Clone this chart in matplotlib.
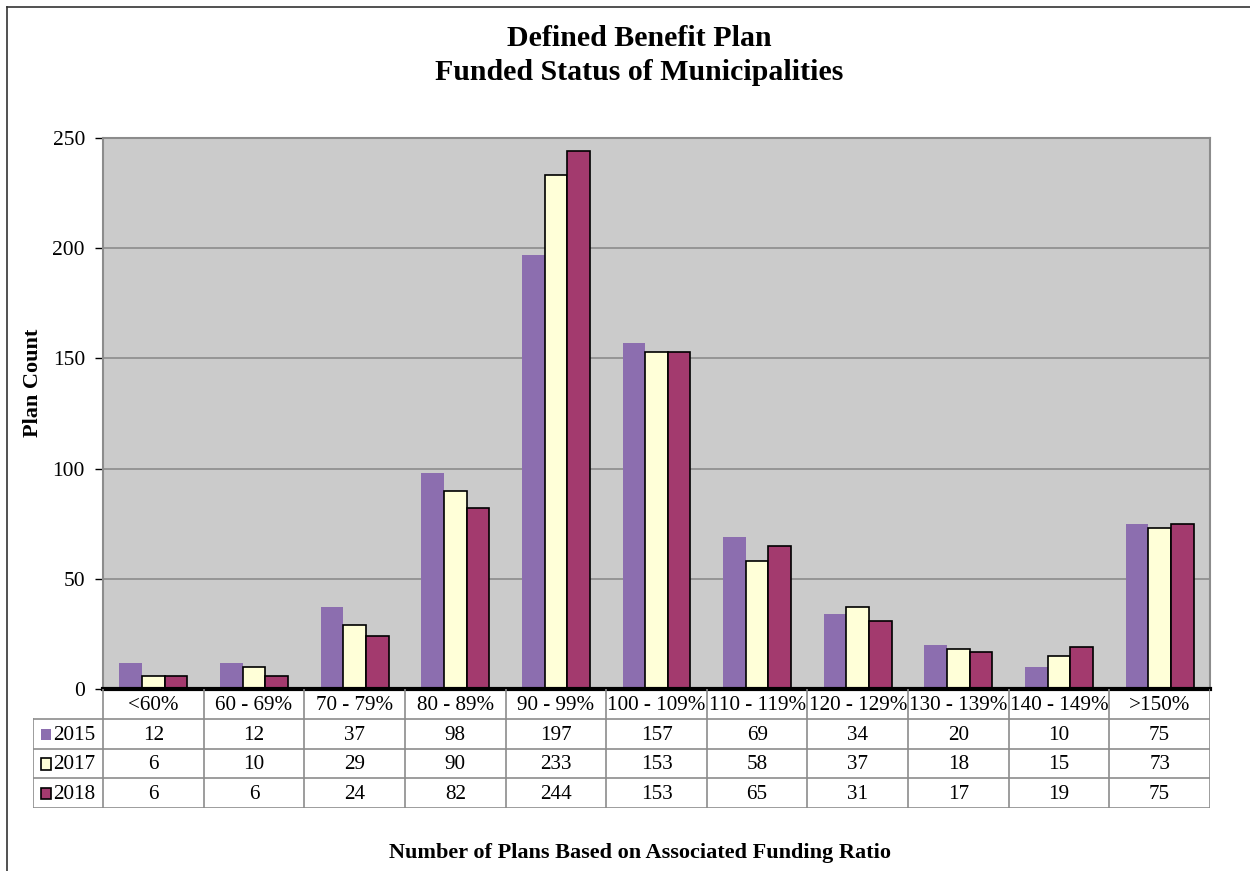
import matplotlib.pyplot as plt
import numpy as np
from matplotlib.patches import Rectangle
from matplotlib.lines import Line2D

plt.rcParams['font.family'] = ['Liberation Serif', 'DejaVu Serif']

# data
categories = ['<60%', '60 - 69%', '70 - 79%', '80 - 89%', '90 - 99%', '100 - 109%',
              '110 - 119%', '120 - 129%', '130 - 139%', '140 - 149%', '>150%']
years = ['2015', '2017', '2018']
plans_2015 = [12, 12, 37, 98, 197, 157, 69, 34, 20, 10, 75]
plans_2017 = [6, 10, 29, 90, 233, 153, 58, 37, 18, 15, 73]
plans_2018 = [6, 6, 24, 82, 244, 153, 65, 31, 17, 19, 75]

colors = ['#8C6EAF', '#FFFFD8', '#A33A6E']
edges = ['none', 'black', 'black']
series = [plans_2015, plans_2017, plans_2018]

W, H = 1250, 871
fig = plt.figure(figsize=(W / 100, H / 100), dpi=100)


def px(l, t, r, b):
    return [l / W, 1 - b / H, (r - l) / W, (b - t) / H]


# main chart
ax = fig.add_axes(px(103, 138, 1210, 689))
x = np.arange(len(categories))
bw = 0.225
for i, vals in enumerate(series):
    ax.bar(x + (i - 1) * bw, vals, bw, color=colors[i], edgecolor=edges[i],
           linewidth=1.2, zorder=3)
ax.set_xlim(-0.5, len(categories) - 0.5)
ax.set_ylim(0, 250)
ax.set_facecolor('#CBCBCB')
ax.set_yticks(range(0, 251, 50))
ax.yaxis.grid(True, color='#8C8C8C', linewidth=1.2)
ax.set_axisbelow(True)
ax.set_xticks([])
for s in ['left', 'right', 'top']:
    ax.spines[s].set_color('#8C8C8C')
    ax.spines[s].set_linewidth(1.5)
ax.spines['bottom'].set_color('black')
ax.spines['bottom'].set_linewidth(3)
ax.spines['bottom'].set_zorder(5)
ax.tick_params(axis='y', length=6, width=1, labelsize=15.5, pad=7, colors='black')

# data table below the chart
lab_w = 0.696
tax = fig.add_axes(px(33, 689, 1210, 808))
tax.set_xlim(-0.5 - lab_w, len(categories) - 0.5)
tax.set_ylim(4, 0)
tax.axis('off')
gc = '#8C8C8C'
for i, cat in enumerate(categories):
    tax.text(i, 0.55, cat, ha='center', va='center', fontsize=15.2)
    for r, vals in enumerate(series):
        tax.text(i, r + 1.55, str(vals[i]), ha='center', va='center', fontsize=15.2)
for k in range(len(categories) + 1):
    tax.add_line(Line2D([k - 0.5, k - 0.5], [0, 4], color=gc, lw=1.2))
tax.add_line(Line2D([-0.5 - lab_w, -0.5 - lab_w], [1, 4], color=gc, lw=1.2))
for r in range(1, 5):
    tax.add_line(Line2D([-0.5 - lab_w, len(categories) - 0.5], [r, r], color=gc, lw=1.2))
for r, yr in enumerate(years):
    tax.add_patch(Rectangle((-0.5 - lab_w + 0.075, r + 1.33), 0.1, 0.38,
                            facecolor=colors[r], edgecolor=edges[r], lw=1.2))
    tax.text(-0.5 - lab_w + 0.2, r + 1.55, yr, ha='left', va='center', fontsize=15.2)

# titles and labels
fig.text(639 / W, 1 - 38 / H, 'Defined Benefit Plan', ha='center', va='center',
         fontsize=21.5, fontweight='bold')
fig.text(639 / W, 1 - 72 / H, 'Funded Status of Municipalities', ha='center',
         va='center', fontsize=21.5, fontweight='bold')
fig.text(33 / W, 1 - 383 / H, 'Plan Count', ha='center', va='center', rotation=90,
         fontsize=16, fontweight='bold')
fig.text(640 / W, 1 - 853 / H, 'Number of Plans Based on Associated Funding Ratio',
         ha='center', va='center', fontsize=16, fontweight='bold')

# outer frame (left and top edges)
fig.add_artist(Line2D([7 / W, 7 / W], [0, 1 - 7 / H], color='#333333', lw=1.2))
fig.add_artist(Line2D([7 / W, 1], [1 - 7 / H, 1 - 7 / H], color='#333333', lw=1.2))

fig.savefig('out.png', dpi=100)
